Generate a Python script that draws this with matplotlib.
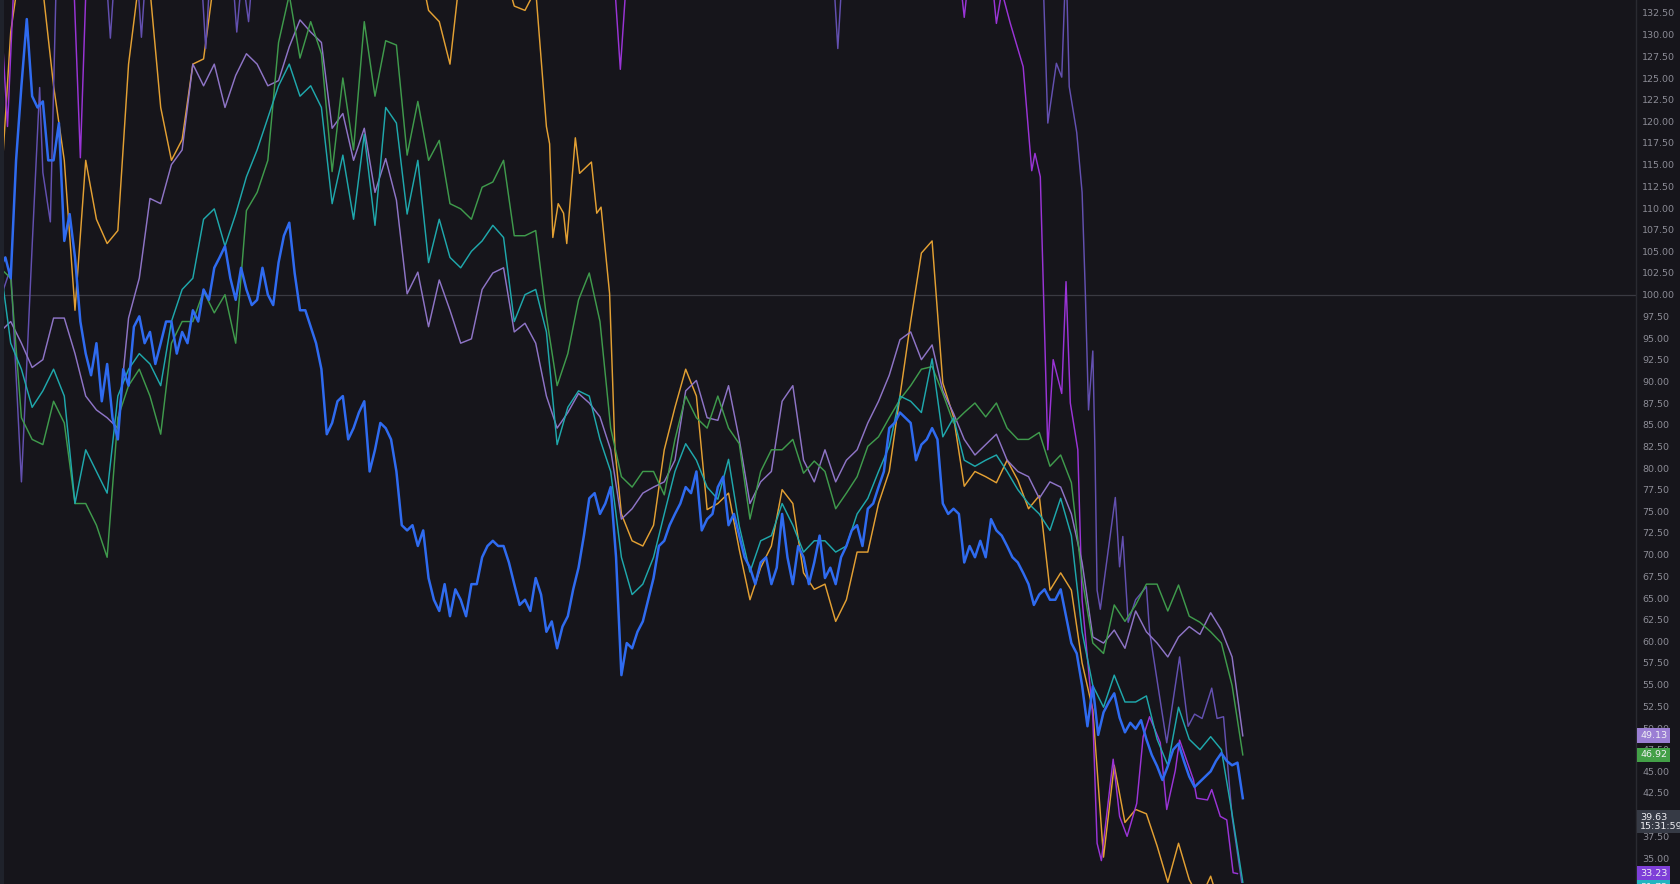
import numpy as np
import matplotlib
matplotlib.use("Agg")
import matplotlib.pyplot as plt

# -----------------------------
# Data (normalised % values, one bar = 10 px of the original canvas)
# -----------------------------
# main symbol, read every half bar
blue = [
    103.1, 104.3, 101.9, 115.5, 124.1, 131.8, 122.9, 121.6, 122.3, 115.5, 115.5, 119.8, 106.2, 109.3, 104.3, 96.9, 93.2, 90.7, 94.4, 87.7,
    92.0, 85.8, 83.3, 91.4, 89.5, 96.3, 97.5, 94.4, 95.7, 92.0, 94.4, 96.9, 96.9, 93.2, 95.7, 94.4, 98.2, 96.9, 100.6, 99.4,
    103.1, 104.3, 105.6, 101.9, 99.4, 103.1, 100.6, 98.8, 99.4, 103.1, 100.0, 98.8, 103.7, 106.8, 108.3, 102.5, 98.2, 98.2, 96.3, 94.4,
    91.4, 83.9, 85.2, 87.7, 88.3, 83.3, 84.6, 86.4, 87.7, 79.6, 82.1, 85.2, 84.6, 83.3, 79.6, 73.4, 72.8, 73.4, 71.0, 72.8,
    67.3, 64.8, 63.5, 66.6, 62.9, 66.0, 64.8, 62.9, 66.6, 66.6, 69.7, 71.0, 71.6, 71.0, 71.0, 69.1, 66.6, 64.2, 64.8, 63.5,
    67.3, 65.4, 61.1, 62.3, 59.2, 61.7, 62.9, 66.0, 68.5, 72.2, 76.5, 77.1, 74.7, 75.9, 77.8, 69.7, 56.1, 59.8, 59.2, 61.1,
    62.3, 64.8, 67.3, 71.0, 71.6, 73.4, 74.7, 75.9, 77.8, 77.1, 79.6, 72.8, 74.1, 74.7, 77.8, 79.0, 73.4, 74.7, 72.2, 69.7,
    68.5, 66.6, 69.1, 69.7, 66.6, 68.5, 74.7, 69.7, 66.6, 71.0, 69.7, 66.6, 69.1, 72.2, 67.3, 68.5, 66.6, 69.7, 71.0, 72.8,
    73.4, 71.0, 75.3, 75.9, 77.8, 79.6, 84.6, 85.2, 86.4, 85.8, 85.2, 80.9, 82.7, 83.3, 84.6, 83.3, 75.9, 74.7, 75.3, 74.7,
    69.1, 71.0, 69.7, 71.6, 69.7, 74.1, 72.8, 72.2, 71.0, 69.7, 69.1, 67.9, 66.6, 64.2, 65.4, 66.0, 64.8, 64.8, 66.0, 62.9,
    59.8, 58.6, 54.9, 50.2, 54.8, 49.2, 51.8, 53.0, 54.0, 51.2, 49.5, 50.6, 49.9, 50.9, 48.7, 46.9, 45.6, 44.0, 45.6, 47.5,
    48.2, 46.2, 44.4, 43.2, 43.8, 44.4, 45.0, 46.2, 47.1, 46.2, 45.7, 46.0, 41.9,
]

teal = [
    103.7, 94.4, 91.4, 87.0, 88.9, 91.4, 88.3, 75.9, 82.1, 79.6,
    77.1, 88.3, 91.4, 93.2, 92.0, 89.5, 96.9, 100.6, 101.9, 108.7,
    109.9, 105.6, 109.3, 113.6, 116.7, 120.4, 124.1, 126.6, 122.9, 124.1,
    121.6, 110.5, 116.1, 108.7, 118.5, 108.0, 121.6, 119.8, 109.3, 115.5,
    103.7, 108.7, 104.3, 103.1, 105.0, 106.2, 108.0, 106.6, 96.9, 100.0,
    100.6, 95.7, 82.7, 87.0, 88.9, 88.3, 83.3, 79.6, 69.7, 65.4,
    66.6, 69.7, 74.7, 79.6, 82.8, 80.9, 77.8, 76.4, 81.0, 73.3,
    68.0, 71.6, 72.2, 75.9, 73.4, 70.3, 71.6, 71.6, 70.3, 71.0,
    74.7, 76.5, 79.6, 82.5, 88.3, 87.7, 86.4, 92.6, 83.6, 85.8,
    80.9, 80.2, 80.9, 81.5, 79.6, 77.5, 75.9, 74.7, 72.8, 76.5,
    72.2, 61.1, 54.9, 52.4, 56.1, 53.0, 53.0, 53.7, 48.7, 45.7,
    52.4, 48.7, 47.5, 49.0, 47.5, 40.1, 32.2,
]

green = [
    103.1, 101.9, 85.8, 83.3, 82.7, 87.7, 85.2, 75.9, 75.9, 73.4,
    69.7, 85.8, 89.5, 91.4, 88.3, 83.9, 94.4, 96.9, 96.9, 100.4,
    97.9, 100.0, 94.4, 109.7, 111.8, 115.5, 129.1, 134.6, 127.3, 131.5,
    127.8, 114.2, 125.0, 116.7, 131.5, 122.9, 129.3, 128.8, 116.1, 122.3,
    115.5, 117.8, 110.5, 109.9, 108.7, 112.4, 113.0, 115.5, 106.8, 106.8,
    107.4, 97.5, 89.5, 93.2, 99.4, 102.5, 96.9, 84.6, 79.0, 77.8,
    79.6, 79.6, 76.9, 83.3, 88.3, 85.8, 84.6, 88.3, 84.6, 82.8,
    74.1, 79.6, 82.1, 82.1, 83.3, 79.4, 80.8, 79.6, 75.3, 77.1,
    79.0, 82.5, 83.6, 85.8, 87.9, 89.5, 91.4, 91.7, 88.6, 85.2,
    86.4, 87.5, 85.9, 87.5, 84.6, 83.3, 83.3, 84.1, 80.2, 81.5,
    78.3, 67.3, 59.8, 58.6, 64.2, 62.3, 64.2, 66.6, 66.6, 63.5,
    66.5, 62.9, 62.2, 61.1, 59.8, 54.9, 46.9,
]

lavender = [
    95.7, 96.9, 94.4, 91.6, 92.5, 97.3, 97.3, 93.2, 88.3, 86.7,
    85.8, 84.6, 97.3, 101.9, 111.1, 110.5, 115.0, 116.7, 126.6, 124.1,
    126.6, 121.6, 125.3, 127.8, 126.6, 124.1, 124.7, 128.6, 131.7, 130.3,
    129.1, 119.2, 120.9, 115.5, 119.2, 111.8, 115.7, 110.9, 100.1, 102.6,
    96.3, 101.7, 98.2, 94.4, 94.9, 100.6, 102.5, 103.1, 95.7, 96.7,
    94.4, 88.3, 84.6, 86.4, 88.6, 87.5, 85.9, 82.1, 74.1, 75.3,
    77.1, 77.8, 78.4, 80.9, 88.9, 90.1, 85.8, 85.5, 89.5, 83.3,
    75.9, 78.4, 79.6, 87.7, 89.5, 80.9, 78.4, 82.1, 78.4, 80.9,
    82.1, 85.2, 87.7, 90.7, 94.8, 95.7, 92.5, 94.2, 88.9, 86.3,
    83.3, 81.5, 82.7, 83.9, 80.9, 79.6, 79.0, 76.5, 78.4, 77.8,
    74.7, 69.1, 60.5, 59.8, 61.3, 59.2, 63.5, 61.1, 59.8, 58.2,
    60.5, 61.7, 60.8, 63.3, 61.3, 58.2, 49.1,
]

orange_x = (list(range(0, 21)) + [39, 40, 41, 42, 43, 47, 48, 49, 50, 51, 51.3, 51.6, 52.1, 52.6,
            52.9, 53.7, 54.1, 55.2, 55.7, 56.1, 56.9, 57.4] + list(range(58, 117)))
orange = [
    110.5, 130.3, 138.9, 138.9, 135.2, 124.1, 115.5, 98.2, 115.5, 108.7,
    105.9, 107.4, 126.6, 136.5, 135.2, 121.6, 115.5, 117.9, 126.6, 127.2, 136.5,
    138.9, 132.8, 131.5, 126.6, 137.7,
    137.7, 133.3, 132.8,
    135.2, 119.4, 117.4, 106.6, 110.5, 109.4, 105.9, 118.1, 114.0, 115.3, 109.4, 110.1, 100.1, 82.1,
    74.7, 71.6,
    71.0, 73.4, 82.1, 87.0, 91.4, 88.3, 75.2, 75.9, 77.1, 70.6,
    64.8, 68.5, 71.0, 77.5, 75.9, 67.9, 66.0, 66.6, 62.3, 64.8,
    70.3, 70.3, 75.9, 79.6, 88.3, 96.9, 104.8, 106.2, 89.8, 85.9,
    77.9, 79.6, 79.0, 78.3, 80.9, 78.6, 75.3, 76.8, 65.9, 67.9,
    65.9, 57.5, 52.1, 35.1, 45.7, 39.1, 40.6, 40.1, 36.4, 32.2,
    36.7, 32.5, 30.2, 32.9, 28.9, 27.7, 26.5,
]

violet_x = [0, 0.7, 1.4, 6.8, 7.5, 8.0, 57.2, 57.9, 58.6, 89.4, 90.0, 90.6, 92.4, 93.0, 93.5,
            94.3, 95.5, 96.3, 96.6, 97.1, 97.4, 97.8, 98.3, 99.1, 99.5, 99.9, 100.6, 101.0,
            102.0, 102.4, 102.8, 103.9, 104.5, 105.2, 106.1, 106.7, 107.3, 108.3, 108.9,
            109.7, 110.1, 111.4, 111.7, 112.7, 113.1, 113.9, 114.5, 115.1, 115.5]
violet = [134.5, 119.4, 138.9, 138.9, 115.8, 134.5, 138.9, 126.0, 138.9, 138.9, 132.0, 138.9, 138.9, 131.3, 135.0,
          131.3, 126.3, 114.3, 116.3, 113.6, 100.1, 82.1, 92.5, 88.6, 101.5, 87.5, 82.1, 64.8,
          51.3, 36.7, 34.7, 46.4, 39.8, 37.5, 41.3, 49.0, 51.3, 48.3, 40.6,
          45.1, 48.6, 44.0, 41.9, 41.7, 42.9, 39.8, 39.4, 33.3, 33.2]

indigo_x = [0, 1.0, 2.0, 3.0, 3.7, 4.0, 4.7, 5.3, 9.8, 10.3, 10.8, 12.7, 13.2, 13.7,
            18.7, 19.2, 19.7, 21.6, 22.1, 22.6, 23.2, 23.7, 77.7, 78.2, 78.7,
            97.3, 97.8, 98.6, 99.1, 99.5, 99.8, 100.5, 101.0, 101.3, 101.6, 102.0, 102.2, 102.4, 102.7,
            104.1, 104.5, 104.8, 105.3, 106.0, 107.0, 107.3,
            108.9, 110.1, 110.9, 111.5, 112.2, 113.1, 113.6, 114.2, 115.0, 115.9]
indigo = [99.4, 103.1, 78.4, 105.6, 123.9, 114.1, 108.4, 138.9, 138.9, 129.6, 138.9, 138.9, 129.7, 138.9,
          138.9, 128.4, 138.9, 138.9, 130.3, 137.0, 131.5, 138.9, 138.9, 128.4, 138.9,
          138.9, 119.8, 126.7, 125.1, 138.9, 124.0, 118.7, 111.8, 100.3, 86.7, 93.5, 82.1, 65.9, 63.7,
          76.6, 68.6, 72.1, 62.2, 64.8, 66.3, 61.1,
          48.3, 58.2, 50.2, 51.6, 51.1, 54.6, 51.1, 51.3, 39.8, 32.2]

tick_values = np.arange(35.0, 133.0, 2.5)

# last-value tags: (text, value, face colour)
price_tags = [
    ("49.13", 49.13, "#9b7fd4"),
    ("46.92", 46.92, "#43a047"),
    ("39.63\n15:31:59", 39.2, "#363a45"),
    ("33.23", 33.23, "#7e3fd8"),
    ("31.72", 31.6, "#22b5c0"),
]

# -----------------------------
# Style
# -----------------------------
BG = "#16151b"
C_BLUE = "#2f6bf0"
C_TEAL = "#1fa8ac"
C_GREEN = "#3f9a4c"
C_LAV = "#8e74c6"
C_ORANGE = "#e3a033"
C_VIOLET = "#9a34d6"
C_INDIGO = "#6350b0"

fig = plt.figure(figsize=(16.8, 8.84), dpi=100, facecolor=BG)
ax = fig.add_axes([0, 0, 1636 / 1680, 1])
ax.set_facecolor(BG)

x10 = np.arange(len(teal))
x5 = np.arange(len(blue)) * 0.5

ax.axhline(100, color="#3a3a42", linewidth=0.9, zorder=1)

lw = 1.05
ax.plot(orange_x, orange, color=C_ORANGE, linewidth=lw, zorder=2)
ax.plot(violet_x, violet, color=C_VIOLET, linewidth=lw, zorder=2)
ax.plot(indigo_x, indigo, color=C_INDIGO, linewidth=lw, zorder=2)
ax.plot(x10, lavender, color=C_LAV, linewidth=lw, zorder=3)
ax.plot(x10, green, color=C_GREEN, linewidth=lw, zorder=3)
ax.plot(x10, teal, color=C_TEAL, linewidth=lw, zorder=4)
ax.plot(x5, blue, color=C_BLUE, linewidth=1.8, zorder=5)

ax.set_xlim(0, 152.7)
ax.set_ylim(32.0, 134.0)

for s in ["top", "bottom", "left"]:
    ax.spines[s].set_visible(False)
ax.spines["right"].set_color("#2a2a31")
ax.spines["right"].set_linewidth(1.0)
ax.set_xticks([])

ax.yaxis.tick_right()
ax.set_yticks(tick_values)
ax.set_yticklabels([f"{v:.2f}" for v in tick_values])
ax.tick_params(axis="y", length=0, pad=4.5, labelsize=6.8, labelcolor="#8c8c96")

# left edge strip
fig.patches.append(plt.Rectangle((0, 0), 4 / 1680, 1, transform=fig.transFigure,
                                 facecolor="#1f222b", edgecolor="none", zorder=10))

for text, val, col in price_tags:
    ax.text(1.0025, val, text, transform=ax.get_yaxis_transform(), ha="left", va="center",
            fontsize=6.8, color="#f0f0f4", clip_on=False, zorder=20, linespacing=1.0,
            bbox=dict(boxstyle="square,pad=0.28", facecolor=col, edgecolor="none"))

fig.savefig("out.png", dpi=100, facecolor=BG)
